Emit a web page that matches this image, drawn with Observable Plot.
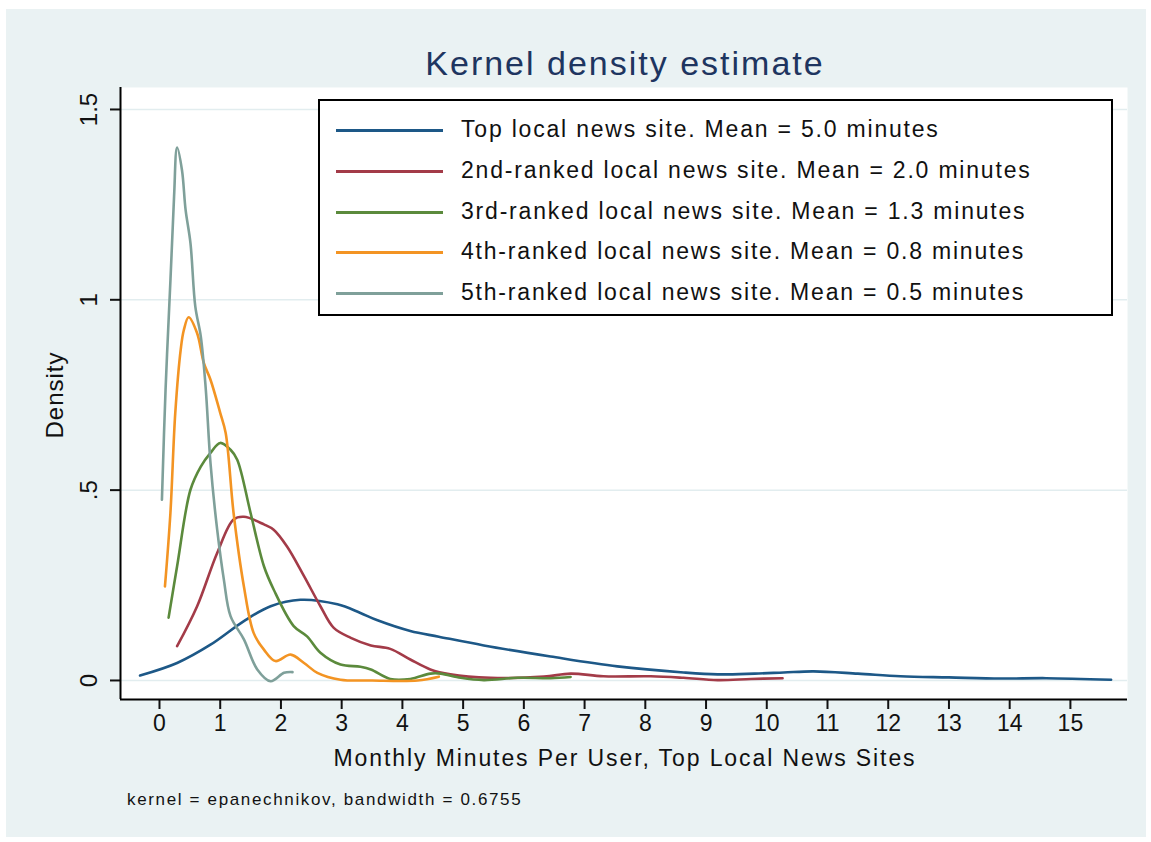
<!DOCTYPE html>
<html>
<head>
<meta charset="utf-8">
<script src="https://cdn.jsdelivr.net/npm/d3@7"></script>
<script src="https://cdn.jsdelivr.net/npm/@observablehq/plot@0.6"></script>
<style>
  html, body { margin: 0; padding: 0; background: #ffffff; }
  body { width: 1151px; height: 842px; position: relative; overflow: hidden; font-family: "Liberation Sans", Arial, Helvetica, sans-serif; }
  #bg { position: absolute; left: 6px; top: 9px; width: 1140px; height: 828px; background: #eaf2f3; }
  #chart { position: absolute; left: 0; top: 0; }
  .txt { position: absolute; white-space: nowrap; color: #111; }
  #title { left: 0; width: 1250px; top: 44px; text-align: center; font-size: 34px; letter-spacing: 2px; color: #1e3560; }
  #xlabel { left: 0; width: 1250px; top: 745px; text-align: center; font-size: 23px; letter-spacing: 1.9px; }
  #caption { left: 127px; top: 790px; font-size: 17px; letter-spacing: 1.65px; }
  #ylabel { left: 55px; top: 395px; font-size: 24px; letter-spacing: 1px; transform: translate(-50%, -50%) rotate(-90deg); }
  #legend { position: absolute; left: 318px; top: 99px; width: 791px; height: 213px; border: 2px solid #000; background: #fff; box-sizing: content-box; }
  .row { position: absolute; left: 0; height: 30px; }
  .row .sw { position: absolute; left: 16px; top: 14px; width: 107px; height: 3px; }
  .row .lb { position: absolute; left: 141px; top: 1px; font-size: 23px; letter-spacing: 1.8px; color: #111; white-space: nowrap; }
</style>
</head>
<body>
<div id="bg"></div>
<div id="chart"></div>
<div id="title" class="txt">Kernel density estimate</div>
<div id="xlabel" class="txt">Monthly Minutes Per User, Top Local News Sites</div>
<div id="caption" class="txt">kernel = epanechnikov, bandwidth = 0.6755</div>
<div id="ylabel" class="txt">Density</div>
<div id="legend"></div>
<script>
// ---- data ----
const seriesNames = [
  "Top local news site. Mean = 5.0 minutes",
  "2nd-ranked local news site. Mean = 2.0 minutes",
  "3rd-ranked local news site. Mean = 1.3 minutes",
  "4th-ranked local news site. Mean = 0.8 minutes",
  "5th-ranked local news site. Mean = 0.5 minutes"
];
const seriesColors = ["#1d5887", "#a33b48", "#5b8a3c", "#f39423", "#7fa09a"];

const topX = [-0.32, 0.29, 0.84, 1.39, 1.83, 2.32, 2.93, 3.3, 3.59, 4.13, 4.6, 5.34, 6.44, 7.54, 8.63, 9.19, 9.8, 10.28, 10.77, 11.5, 12.2, 13.0, 13.85, 14.6, 15.67];
const topY = [0.013, 0.046, 0.094, 0.156, 0.195, 0.212, 0.2, 0.178, 0.158, 0.13, 0.115, 0.092, 0.063, 0.037, 0.021, 0.016, 0.018, 0.021, 0.024, 0.018, 0.011, 0.008, 0.005, 0.006, 0.002];

const secondX = [0.29, 0.62, 0.95, 1.22, 1.39, 1.72, 1.88, 2.1, 2.38, 2.65, 2.87, 3.15, 3.48, 3.8, 4.13, 4.46, 4.79, 5.45, 6.33, 6.77, 7.31, 8.09, 8.63, 9.19, 9.74, 10.26];
const secondY = [0.09, 0.195, 0.335, 0.423, 0.43, 0.41, 0.396, 0.352, 0.274, 0.195, 0.138, 0.112, 0.092, 0.083, 0.055, 0.029, 0.016, 0.007, 0.01, 0.018, 0.011, 0.011, 0.007, 0.001, 0.004, 0.006];

const thirdX = [0.15, 0.29, 0.51, 0.68, 0.84, 1.0, 1.17, 1.28, 1.5, 1.72, 1.88, 2.21, 2.43, 2.65, 2.98, 3.31, 3.48, 3.8, 4.13, 4.46, 4.63, 4.96, 5.34, 5.9, 6.44, 6.77];
const thirdY = [0.165, 0.3, 0.501, 0.562, 0.598, 0.624, 0.606, 0.58, 0.44, 0.3, 0.239, 0.143, 0.116, 0.073, 0.042, 0.036, 0.029, 0.004, 0.004, 0.018, 0.018, 0.007, 0.001, 0.007, 0.006, 0.009];

const fourthX = [0.09, 0.18, 0.26, 0.35, 0.4, 0.48, 0.62, 0.73, 0.84, 1.0, 1.09, 1.22, 1.39, 1.55, 1.72, 1.91, 2.16, 2.38, 2.6, 2.98, 3.5, 4.25, 4.6];
const fourthY = [0.247, 0.44, 0.703, 0.87, 0.92, 0.954, 0.912, 0.834, 0.79, 0.703, 0.65, 0.44, 0.247, 0.125, 0.081, 0.051, 0.068, 0.046, 0.02, 0.002, 0.0, 0.0, 0.01];

const fifthX = [0.04, 0.1, 0.18, 0.24, 0.29, 0.37, 0.43, 0.51, 0.59, 0.68, 0.76, 0.84, 0.95, 1.06, 1.17, 1.39, 1.61, 1.83, 2.05, 2.19];
const fifthY = [0.475, 0.764, 1.05, 1.271, 1.40, 1.341, 1.236, 1.149, 0.982, 0.904, 0.77, 0.571, 0.396, 0.265, 0.169, 0.108, 0.029, -0.002, 0.02, 0.022];

const xTicks = [0, 1, 2, 3, 4, 5, 6, 7, 8, 9, 10, 11, 12, 13, 14, 15];
const yTicks = [0, 0.5, 1, 1.5];
const yTickLabels = ["0", ".5", "1", "1.5"];

// ---- build table ----
const seriesXs = [topX, secondX, thirdX, fourthX, fifthX];
const seriesYs = [topY, secondY, thirdY, fourthY, fifthY];
const rows = [];
seriesNames.forEach((name, i) => {
  seriesXs[i].forEach((x, j) => rows.push({series: name, x, y: seriesYs[i][j]}));
});

const xMin = -0.642, xMax = 15.94, yMin = -0.05, yMax = 1.5577;

const chart = Plot.plot({
  width: 1151,
  height: 842,
  marginLeft: 120,
  marginRight: 24,
  marginTop: 87,
  marginBottom: 143,
  style: {background: "transparent", fontFamily: "'Liberation Sans', Arial, sans-serif", fontSize: "23px", color: "#111"},
  x: {domain: [xMin, xMax]},
  y: {domain: [yMin, yMax]},
  color: {domain: seriesNames, range: seriesColors},
  marks: [
    Plot.frame({fill: "#ffffff", stroke: "none"}),
    Plot.ruleY(yTicks, {stroke: "#e2edef", strokeWidth: 1.5}),
    Plot.line(rows, {x: "x", y: "y", z: "series", stroke: "series", strokeWidth: 2.6, curve: "catmull-rom"}),
    Plot.axisX({ticks: xTicks, tickSize: 10, tickPadding: 5, strokeWidth: 2, label: null, fontSize: 23, tickFormat: d => String(d)}),
    Plot.axisY({ticks: yTicks, tickSize: 10, tickPadding: 14, strokeWidth: 2, label: null, fontSize: 24, tickRotate: -90, tickFormat: d => yTickLabels[yTicks.indexOf(d)]}),
    Plot.ruleX([xMin], {stroke: "#000", strokeWidth: 2}),
    Plot.ruleY([yMin], {stroke: "#000", strokeWidth: 2})
  ]
});
document.getElementById("chart").appendChild(chart);

// ---- legend ----
const legend = document.getElementById("legend");
seriesNames.forEach((name, i) => {
  const r = document.createElement("div");
  r.className = "row";
  r.style.top = (14 + i * 40.75) + "px";
  const sw = document.createElement("div");
  sw.className = "sw";
  sw.style.background = seriesColors[i];
  const lb = document.createElement("div");
  lb.className = "lb";
  lb.textContent = name;
  r.appendChild(sw); r.appendChild(lb);
  legend.appendChild(r);
});
</script>
</body>
</html>
